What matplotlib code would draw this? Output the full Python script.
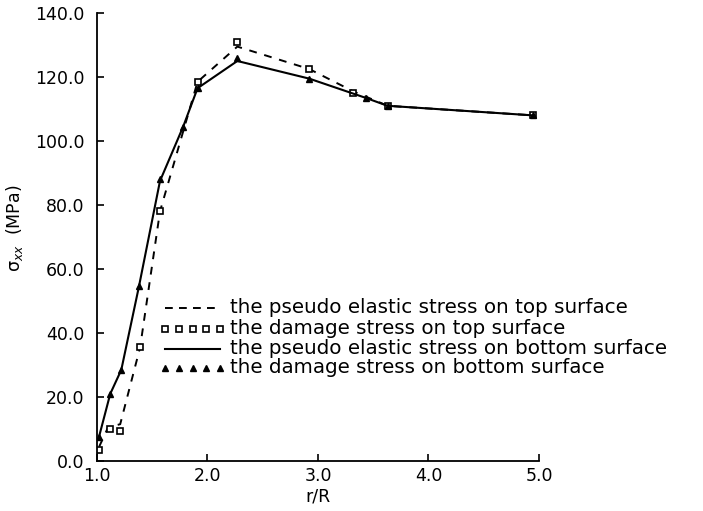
import matplotlib
matplotlib.use("Agg")
import matplotlib.pyplot as plt
import numpy as np
from matplotlib.lines import Line2D

# pseudo elastic stress on top surface (dashed line)
top_elastic_r = [1.02, 1.10, 1.21, 1.39, 1.57, 1.91, 2.27, 2.92, 3.32, 3.63, 4.95]
top_elastic_s = [4.5, 10.5, 11.5, 35.5, 78.0, 118.5, 129.5, 122.5, 115.5, 111.0, 108.0]

# damage stress on top surface (open squares)
top_damage_r = [1.02, 1.12, 1.21, 1.39, 1.57, 1.91, 2.27, 2.92, 3.32, 3.63, 4.95]
top_damage_s = [3.5, 10.0, 9.5, 35.7, 78.0, 118.5, 131.0, 122.5, 115.0, 111.0, 108.0]

# pseudo elastic stress on bottom surface (solid line)
bot_elastic_r = [1.02, 1.12, 1.22, 1.38, 1.57, 1.78, 1.91, 2.27, 2.92, 3.43, 3.63, 4.95]
bot_elastic_s = [7.8, 21.0, 28.5, 54.6, 87.5, 104.5, 116.5, 125.0, 119.5, 113.5, 111.0, 108.0]

# damage stress on bottom surface (filled triangles)
bot_damage_r = [1.02, 1.12, 1.22, 1.38, 1.57, 1.78, 1.91, 2.27, 2.92, 3.43, 3.63, 4.95]
bot_damage_s = [7.5, 21.0, 28.5, 54.6, 88.0, 104.5, 116.5, 126.0, 119.5, 113.5, 111.0, 108.0]

x_ticks = [1.0, 2.0, 3.0, 4.0, 5.0]
y_ticks = [0.0, 20.0, 40.0, 60.0, 80.0, 100.0, 120.0, 140.0]

labels = ["the pseudo elastic stress on top surface",
          "the damage stress on top surface",
          "the pseudo elastic stress on bottom surface",
          "the damage stress on bottom surface"]

W, H = 703, 511
fig = plt.figure(figsize=(W / 100, H / 100), dpi=100)
ax = fig.add_axes([97 / W, 1 - 461 / H, (539 - 97) / W, (461 - 13) / H])

dash = (0, (4, 4))
ax.plot(top_elastic_r, top_elastic_s, color="black", lw=1.4, ls=dash)
ax.plot(top_damage_r, top_damage_s, ls="none", marker="s", ms=4, mfc="white",
        mec="black", mew=1.2)
ax.plot(bot_elastic_r, bot_elastic_s, color="black", lw=1.5)
ax.plot(bot_damage_r, bot_damage_s, ls="none", marker="^", ms=5, color="black")

ax.set_xlim(1.0, 5.0)
ax.set_ylim(0.0, 140.0)
ax.set_xticks(x_ticks)
ax.set_yticks(y_ticks)
ax.set_xticklabels([f"{v:.1f}" for v in x_ticks])
ax.set_yticklabels([f"{v:.1f}" for v in y_ticks])
ax.tick_params(direction="in", length=5, width=1.2, labelsize=12.5)
ax.tick_params(axis="y", pad=9)
ax.tick_params(axis="x", pad=4)
for s in ["top", "right"]:
    ax.spines[s].set_visible(False)
for s in ["left", "bottom"]:
    ax.spines[s].set_linewidth(1.3)

ax.set_xlabel("r/R", fontsize=12.5, labelpad=2)
fig.text(15 / W, 1 - 228 / H, "σ$_{xx}$  (MPa)", rotation=90, fontsize=12.5,
         ha="center", va="center")

# manual legend
baselines = [313, 334, 354, 373]
hx = np.linspace(165, 220, 5) / W
for i, (lab, yb) in enumerate(zip(labels, baselines)):
    yh = 1 - (yb - 5) / H
    if i == 0:
        fig.add_artist(Line2D([165 / W, 220 / W], [yh, yh], color="black", lw=1.4,
                              ls=(0, (4, 3.2)), transform=fig.transFigure))
    elif i == 1:
        fig.add_artist(Line2D(hx, [yh] * 5, ls="none", marker="s", ms=4, mfc="white",
                              mec="black", mew=1.2, transform=fig.transFigure))
    elif i == 2:
        fig.add_artist(Line2D([165 / W, 220 / W], [yh, yh], color="black", lw=1.5,
                              transform=fig.transFigure))
    else:
        fig.add_artist(Line2D(hx, [yh] * 5, ls="none", marker="^", ms=4.5,
                              color="black", transform=fig.transFigure))
    fig.text(230 / W, 1 - yb / H, lab, fontsize=14.3, ha="left", va="baseline")

fig.savefig("out.png", dpi=100)
